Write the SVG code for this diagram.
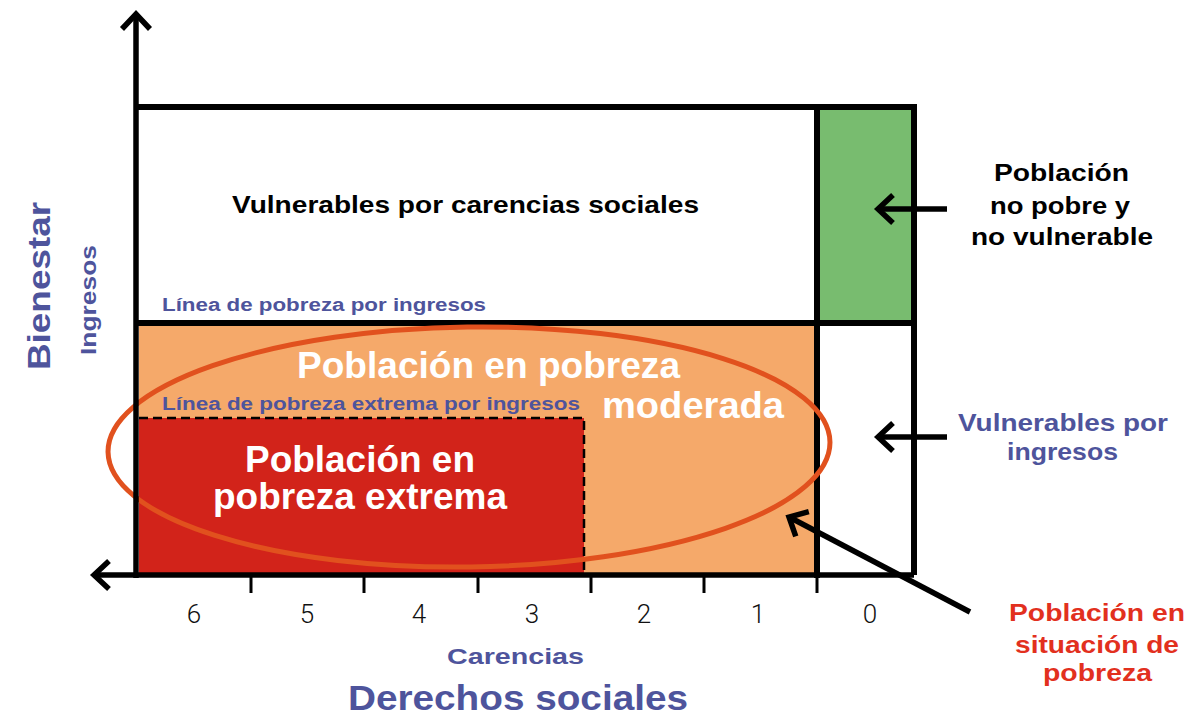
<svg xmlns="http://www.w3.org/2000/svg" width="1190" height="718" viewBox="0 0 1190 718">
<style>
text{font-family:"Liberation Sans",Arial,sans-serif;font-weight:bold}
.blk{fill:#000}
.blue{fill:#4E549C}
.wht{fill:#fff}
.red{fill:#E2301E}
.num{font-family:Roboto,"Liberation Sans",sans-serif;font-weight:300;font-size:26px;fill:#111;text-anchor:middle}
.frame{stroke:#000;stroke-width:6;fill:none}
.tick{stroke:#000;stroke-width:3}
.arrow{stroke:#000;stroke-width:5.5;fill:none;marker-end:url(#chev)}
</style>
<defs>
<marker id="chev" markerUnits="userSpaceOnUse" markerWidth="24" markerHeight="36" viewBox="-18 -18 24 36" refX="0" refY="0" orient="auto" overflow="visible">
<path d="M-15,-14 L0,0 L-15,14" fill="none" stroke="#000" stroke-width="5.5" stroke-linejoin="miter"/>
</marker>
</defs>
<rect width="1190" height="718" fill="#fff"/>

<g id="region-carencias">
<rect x="139" y="110" width="678" height="213" fill="#fff"/>
<text class="blk" x="232" y="213" font-size="24" textLength="467" lengthAdjust="spacingAndGlyphs">Vulnerables por carencias sociales</text>
</g>
<g id="region-no-pobre">
<rect x="817" y="107" width="94" height="216" fill="#78BC6F"/>
</g>
<g id="region-moderada">
<rect x="139" y="323" width="678" height="252" fill="#F5A96A"/>
</g>
<g id="region-extrema">
<rect x="139" y="418" width="445" height="157" fill="#D2231A"/>
<path d="M139,418 H584 V575" fill="none" stroke="#000" stroke-width="2.5" stroke-dasharray="9 5"/>
</g>
<g id="region-vuln-ingresos">
<rect x="817" y="323" width="94" height="252" fill="#fff"/>
</g>

<g id="frame">
<path class="frame" d="M136,107 H914 V575 M136,323 H914 M817,107 V578"/>
<line class="tick" x1="251" y1="577" x2="251" y2="593"/>
<line class="tick" x1="364" y1="577" x2="364" y2="593"/>
<line class="tick" x1="478" y1="577" x2="478" y2="593"/>
<line class="tick" x1="591" y1="577" x2="591" y2="593"/>
<line class="tick" x1="704" y1="577" x2="704" y2="593"/>
<line class="tick" x1="817" y1="577" x2="817" y2="593"/>
</g>

<g id="labels-inner">
<text class="blue" x="162" y="311" font-size="18" textLength="324" lengthAdjust="spacingAndGlyphs">Línea de pobreza por ingresos</text>
<text class="blue" x="162" y="410" font-size="18" textLength="418" lengthAdjust="spacingAndGlyphs">Línea de pobreza extrema por ingresos</text>
<text class="wht" x="297" y="378" font-size="36" textLength="383" lengthAdjust="spacingAndGlyphs">Población en pobreza</text>
<text class="wht" x="602" y="418" font-size="36" textLength="182" lengthAdjust="spacingAndGlyphs">moderada</text>
<text class="wht" x="245" y="472" font-size="36" textLength="230" lengthAdjust="spacingAndGlyphs">Población en</text>
<text class="wht" x="213" y="509" font-size="36" textLength="294" lengthAdjust="spacingAndGlyphs">pobreza extrema</text>
</g>

<g id="ellipse-pobreza">
<ellipse cx="469" cy="447" rx="361" ry="120" fill="none" stroke="#E1511E" stroke-width="5" transform="rotate(-0.8 469 447)"/>
</g>

<g id="connectors">
<line class="arrow" x1="136" y1="578" x2="136" y2="14"/>
<line class="arrow" x1="914" y1="575" x2="94" y2="575"/>
<line class="arrow" x1="947" y1="209" x2="878" y2="209"/>
<line class="arrow" x1="947" y1="437" x2="878" y2="437"/>
<line class="arrow" x1="970" y1="612" x2="789" y2="517"/>
</g>

<g id="axis-numbers">
<text class="num" x="194" y="623">6</text>
<text class="num" x="307" y="623">5</text>
<text class="num" x="419" y="623">4</text>
<text class="num" x="532" y="623">3</text>
<text class="num" x="644" y="623">2</text>
<text class="num" x="758" y="623">1</text>
<text class="num" x="870" y="623">0</text>
</g>

<g id="axis-titles">
<text class="blue" x="447" y="664" font-size="22" textLength="137" lengthAdjust="spacingAndGlyphs">Carencias</text>
<text class="blue" x="348" y="710" font-size="35" textLength="340" lengthAdjust="spacingAndGlyphs">Derechos sociales</text>
<text class="blue" font-size="32" textLength="168" lengthAdjust="spacingAndGlyphs" transform="translate(50,370) rotate(-90)">Bienestar</text>
<text class="blue" font-size="22" font-weight="normal" textLength="110" lengthAdjust="spacingAndGlyphs" transform="translate(96,355) rotate(-90)">Ingresos</text>
</g>

<g id="label-no-pobre">
<text class="blk" x="994" y="181" font-size="24" textLength="135" lengthAdjust="spacingAndGlyphs">Población</text>
<text class="blk" x="990" y="214" font-size="24" textLength="140" lengthAdjust="spacingAndGlyphs">no pobre y</text>
<text class="blk" x="971" y="245" font-size="24" textLength="182" lengthAdjust="spacingAndGlyphs">no vulnerable</text>
</g>
<g id="label-vuln-ingresos">
<text class="blue" x="958" y="431" font-size="24" textLength="210" lengthAdjust="spacingAndGlyphs">Vulnerables por</text>
<text class="blue" x="1007" y="460" font-size="24" textLength="111" lengthAdjust="spacingAndGlyphs">ingresos</text>
</g>
<g id="label-situacion-pobreza">
<text class="red" x="1009" y="621" font-size="24" textLength="176" lengthAdjust="spacingAndGlyphs">Población en</text>
<text class="red" x="1015" y="653" font-size="24" textLength="164" lengthAdjust="spacingAndGlyphs">situación de</text>
<text class="red" x="1043" y="681" font-size="24" textLength="109" lengthAdjust="spacingAndGlyphs">pobreza</text>
</g>
</svg>
